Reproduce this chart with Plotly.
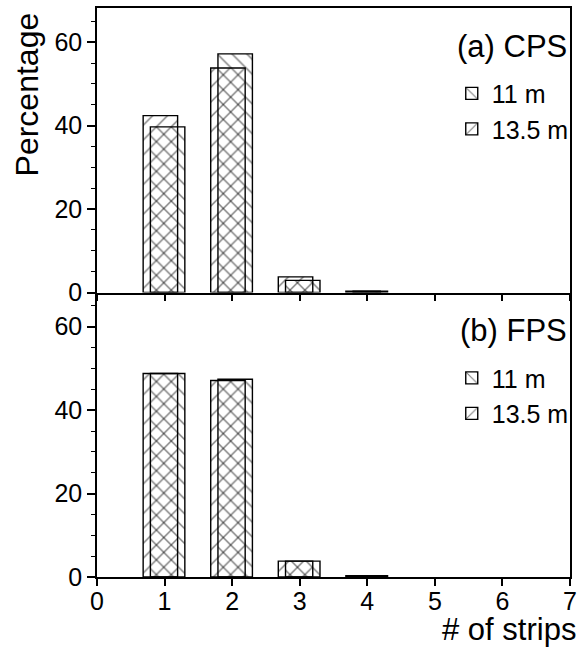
import plotly.graph_objects as go
from plotly.subplots import make_subplots

strips = [1, 2, 3, 4]
cps_11m = [39.7, 57.2, 2.9, 0.3]
cps_13_5m = [42.4, 53.8, 3.75, 0.3]
fps_11m = [48.8, 47.4, 3.8, 0.3]
fps_13_5m = [48.8, 47.1, 3.8, 0.3]

panel_labels = ["(a) CPS", "(b) FPS"]
series_names = ["11 m", "13.5 m"]
x_ticks = [0, 1, 2, 3, 4, 5, 6, 7]
y_ticks = [0, 20, 40, 60]

FONT = "Liberation Sans, Arial, sans-serif"

fig = make_subplots(rows=2, cols=1, shared_xaxes=False, vertical_spacing=0)

def bar(x, y, shape, name, offset, legend, show):
    return go.Bar(
        x=x, y=y, name=name, offset=offset, width=0.51,
        marker=dict(color="rgba(0,0,0,0)",
                    line=dict(color="black", width=1.4),
                    pattern=dict(shape=shape, fgcolor="black",
                                 bgcolor="rgba(0,0,0,0)", size=10.5,
                                 solidity=0.14, fillmode="overlay")),
        legend=legend, showlegend=show,
    )

# top panel
fig.add_trace(bar(strips, cps_11m, "\\", series_names[0], -0.21, "legend", True), row=1, col=1)
fig.add_trace(bar(strips, cps_13_5m, "/", series_names[1], -0.317, "legend", True), row=1, col=1)
# bottom panel
fig.add_trace(bar(strips, fps_11m, "\\", series_names[0], -0.21, "legend2", True), row=2, col=1)
fig.add_trace(bar(strips, fps_13_5m, "/", series_names[1], -0.317, "legend2", True), row=2, col=1)

axis_common = dict(showgrid=False, zeroline=False, showline=True, linecolor="black",
                   linewidth=1.5, ticks="outside", tickcolor="black",
                   tickwidth=1.5, tickfont=dict(family=FONT, size=25, color="black"))

for r in (1, 2):
    fig.update_xaxes(range=[0, 7], tickvals=x_ticks, ticklen=7, ticklabelstandoff=-6,
                     mirror=(r == 1), showticklabels=(r == 2), row=r, col=1, **axis_common)
    fig.update_yaxes(range=[0, 68.2], tickvals=y_ticks, ticklen=8, mirror=True,
                     minor=dict(dtick=5, ticklen=4, tickcolor="black", tickwidth=1.2, ticks="outside"),
                     row=r, col=1, **axis_common)

leg_common = dict(font=dict(family=FONT, size=25, color="black"), bgcolor="rgba(0,0,0,0)",
                  xanchor="left", yanchor="top", x=0.75, tracegroupgap=0,
                  itemwidth=30, traceorder="normal")

fig.update_layout(
    width=583, height=647,
    margin=dict(l=97, r=6, t=6, b=70),
    plot_bgcolor="white", paper_bgcolor="white",
    barmode="overlay",
    legend=dict(y=0.89, **leg_common),
    legend2=dict(y=0.39, **leg_common),
    font=dict(family=FONT, color="black"),
)

fig.add_annotation(text=panel_labels[0], xref="paper", yref="paper", x=0.998, y=0.932,
                   xanchor="right", yanchor="middle", showarrow=False,
                   font=dict(family=FONT, size=31, color="black"))
fig.add_annotation(text=panel_labels[1], xref="paper", yref="paper", x=0.998, y=0.4326,
                   xanchor="right", yanchor="middle", showarrow=False,
                   font=dict(family=FONT, size=31, color="black"))
fig.add_annotation(text="Percentage", xref="paper", yref="paper", x=-0.146, y=0.848,
                   xanchor="center", yanchor="middle", textangle=-90, showarrow=False,
                   font=dict(family=FONT, size=32, color="black"))
fig.add_annotation(text="# of strips", xref="paper", yref="paper", x=1.016, y=-0.093,
                   xanchor="right", yanchor="middle", showarrow=False,
                   font=dict(family=FONT, size=31, color="black"))

fig.write_html("out.html", config={"displayModeBar": False},
               post_script="document.body.style.margin='0';")
